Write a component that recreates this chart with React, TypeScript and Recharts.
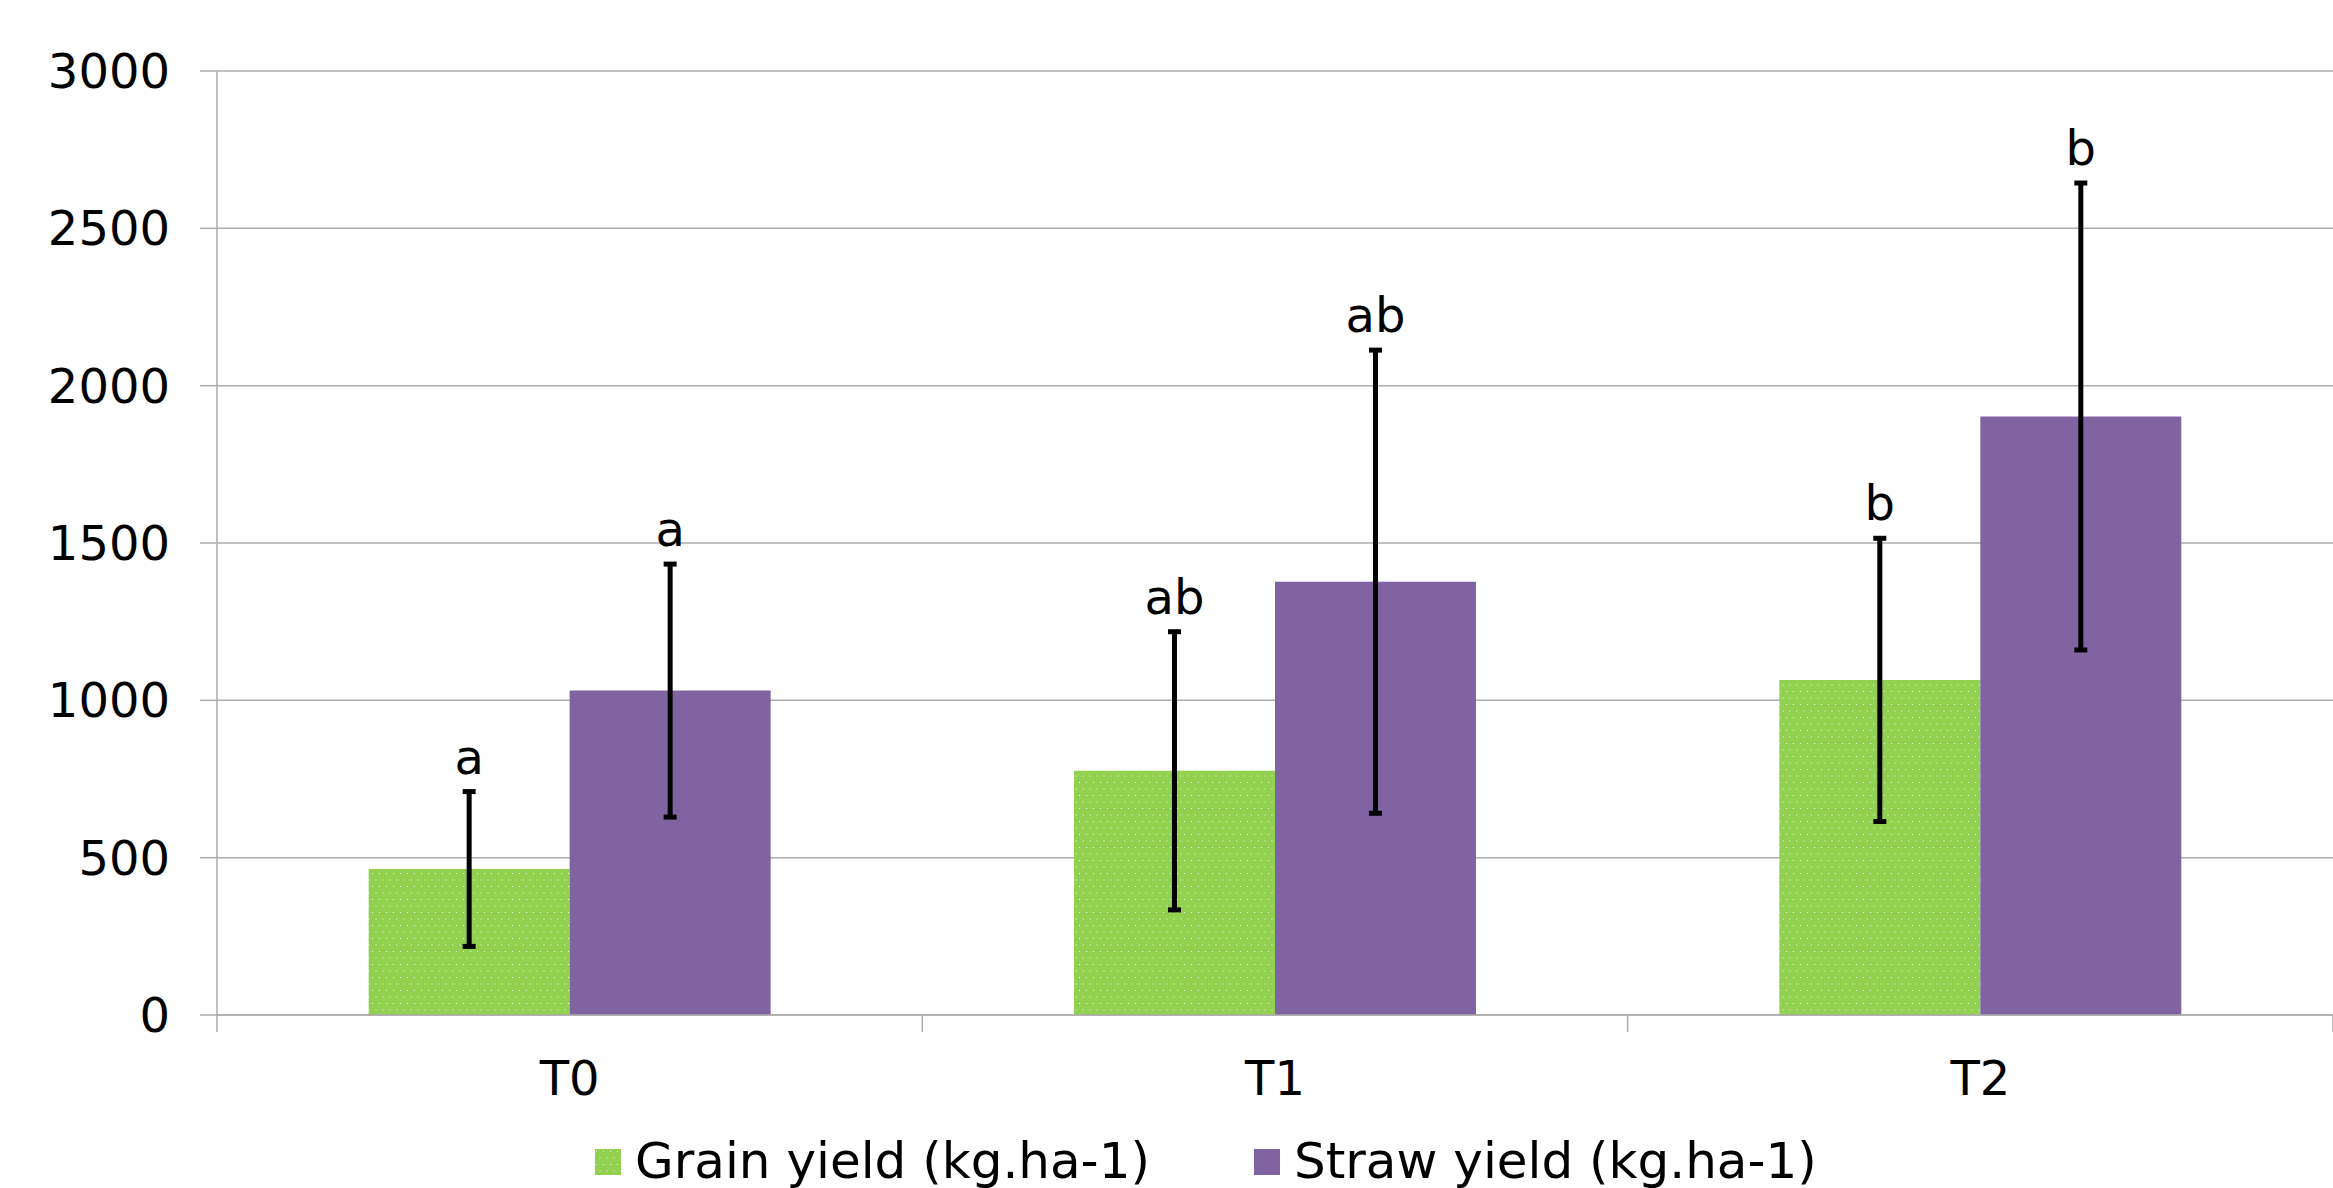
/** Grain and straw yield by treatment, with error bars and significance letters. */
import { Bar, BarChart, CartesianGrid, ErrorBar, LabelList, Legend, XAxis, YAxis } from 'recharts'

const treatments = ['T0', 'T1', 'T2']
const grainYield = [464, 776, 1065]
const grainSd = [246, 442, 450]
const grainLetters = ['a', 'ab', 'b']
const strawYield = [1031, 1377, 1902]
const strawSd = [402, 736, 742]
const strawLetters = ['a', 'ab', 'b']
const yTicks = [0, 500, 1000, 1500, 2000, 2500, 3000]

const GREEN = '#92D050'
const PURPLE = '#8064A2'
const GRID = '#ADADAD'
const FONT = '"DejaVu Sans", Verdana, sans-serif'

const data = treatments.map((t, i) => ({
  treatment: t,
  grain: grainYield[i],
  grainErr: grainSd[i],
  grainLetter: grainLetters[i],
  straw: strawYield[i],
  strawErr: strawSd[i],
  strawLetter: strawLetters[i],
}))

// letter sits just above the top of the error bar; the bar's own px/unit gives that height
const letterAbove = (values: number[], sds: number[]) => (p: any) => {
  const { x, y, width, height, value, index } = p
  const top = y - (sds[index] * height) / values[index]
  return (
    <text
      key={`l-${index}`}
      x={x + width / 2}
      y={top - 18}
      textAnchor="middle"
      fontSize={48}
      fontFamily={FONT}
      fill="#000"
    >
      {value}
    </text>
  )
}

// category label plus the tick marks on the band edges (Excel style)
function CategoryTick(props: any) {
  const { x, y, payload, index } = props
  const half = payload?.offset ?? 0
  const last = index === treatments.length - 1
  return (
    <g>
      <line x1={x - half} x2={x - half} y1={y} y2={y + 17} stroke={GRID} strokeWidth={1.5} />
      {last && <line x1={x + half} x2={x + half} y1={y} y2={y + 17} stroke={GRID} strokeWidth={1.5} />}
      <text x={x} y={y + 46} dy="0.71em" textAnchor="middle" fontSize={48} fontFamily={FONT} fill="#000">
        {payload.value}
      </text>
    </g>
  )
}

const legendItems = [
  { label: 'Grain yield (kg.ha-1)', fill: 'url(#grainDots)' },
  { label: 'Straw yield (kg.ha-1)', fill: PURPLE },
]

function LegendBox() {
  return (
    <div style={{ height: 53, display: 'flex', alignItems: 'center', paddingLeft: 595 }}>
      {legendItems.map((it, i) => (
        <div key={it.label} style={{ display: 'flex', alignItems: 'center', marginRight: i === 0 ? 104 : 0 }}>
          <svg width={26} height={26} style={{ marginRight: 14 }}>
            <rect width={26} height={26} fill={it.fill} />
          </svg>
          <span style={{ fontFamily: FONT, fontSize: 50, color: '#000', lineHeight: '53px' }}>{it.label}</span>
        </div>
      ))}
    </div>
  )
}

export default function App() {
  return (
    <div style={{ width: 2333, height: 1188, background: '#fff' }}>
      <style>{'body{margin:0}'}</style>
      <BarChart
        width={2333}
        height={1188}
        data={data}
        margin={{ top: 71, right: 0, left: 0, bottom: 119 }}
        barCategoryGap="21.5%"
        barGap={0}
      >
        <defs>
          <pattern id="grainDots" width={7} height={13} patternUnits="userSpaceOnUse">
            <rect width={7} height={13} fill={GREEN} />
            <rect x={1} y={2} width={1} height={1} fill="#ffffff" opacity={0.85} />
            <rect x={4.5} y={8.5} width={1} height={1} fill="#ffffff" opacity={0.85} />
          </pattern>
        </defs>
        <CartesianGrid vertical={false} stroke={GRID} strokeWidth={1.5} />
        <XAxis
          dataKey="treatment"
          height={1}
          interval={0}
          axisLine={{ stroke: GRID, strokeWidth: 1.5 }}
          tickLine={false}
          tickSize={0}
          tickMargin={0}
          tick={<CategoryTick />}
        />
        <YAxis
          width={217}
          domain={[0, 3000]}
          ticks={yTicks}
          tickSize={17}
          tickMargin={30}
          axisLine={{ stroke: GRID, strokeWidth: 1.5 }}
          tickLine={{ stroke: GRID, strokeWidth: 1.5 }}
          tick={{ fontSize: 48, fontFamily: FONT, fill: '#000' }}
        />
        <Legend
          verticalAlign="bottom"
          wrapperStyle={{ left: 0, bottom: 0, top: 'auto', width: 2333, height: 53 }}
          content={() => <LegendBox />}
        />
        <Bar dataKey="grain" name="Grain yield (kg.ha-1)" fill="url(#grainDots)" isAnimationActive={false}>
          <ErrorBar dataKey="grainErr" width={6.5} strokeWidth={5} stroke="#000" direction="y" isAnimationActive={false} />
          <LabelList dataKey="grainLetter" content={letterAbove(grainYield, grainSd)} />
        </Bar>
        <Bar dataKey="straw" name="Straw yield (kg.ha-1)" fill={PURPLE} isAnimationActive={false}>
          <ErrorBar dataKey="strawErr" width={6.5} strokeWidth={5} stroke="#000" direction="y" isAnimationActive={false} />
          <LabelList dataKey="strawLetter" content={letterAbove(strawYield, strawSd)} />
        </Bar>
      </BarChart>
    </div>
  )
}
